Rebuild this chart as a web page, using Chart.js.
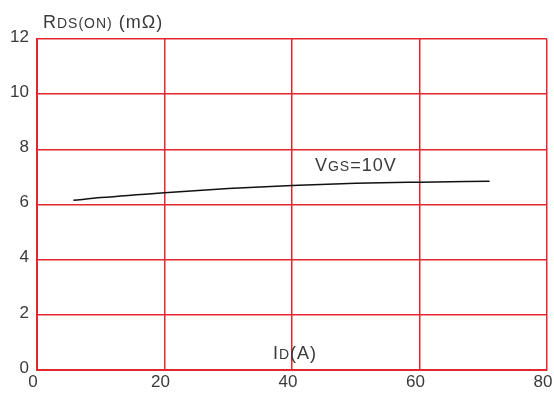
<!DOCTYPE html>
<html><head><meta charset="utf-8">
<script src="https://cdn.jsdelivr.net/npm/chart.js@4/dist/chart.umd.min.js"></script>
<style>html,body{margin:0;padding:0;background:#fff}#wrap{width:554px;height:394px}</style>
</head><body><div id="wrap"><canvas id="c" width="554" height="394"></canvas></div>
<script>
const currentA = [5.7, 10, 20, 30, 40, 50, 60, 71];
const rdsOn = [6.15, 6.25, 6.43, 6.58, 6.69, 6.77, 6.81, 6.84];
const xTicks = [0, 20, 40, 60, 80];
const yTicks = [0, 2, 4, 6, 8, 10, 12];
const seriesLabel = ["V", "GS", "=10V"];
const yTitle = ["R", "DS(ON)", " (m\u03A9)"];
const xTitle = ["I", "D", "(A)"];

const RED = 'rgb(228,38,46)';
const TXT = '#3a3a3a';
const FONT = 'Liberation Sans, Arial, sans-serif';

function drawMixed(ctx, parts, x, y, big, small) {
  let cx = x;
  ctx.letterSpacing = '1px';
  parts.forEach((p, i) => {
    ctx.font = (i % 2 === 1 ? small : big) + 'px ' + FONT;
    ctx.fillText(p, cx, y);
    cx += ctx.measureText(p).width;
  });
}

const textPlugin = {
  id: 'texts',
  afterDraw(chart) {
    const ctx = chart.ctx;
    const xs = chart.scales.x, ys = chart.scales.y;
    ctx.save();
    ctx.fillStyle = TXT;
    ctx.textBaseline = 'alphabetic';
    ctx.textAlign = 'left';
    drawMixed(ctx, yTitle, 43, 28, 18, 14);
    drawMixed(ctx, xTitle, xs.getPixelForValue(37.0), ys.getPixelForValue(0.4), 18, 14);
    drawMixed(ctx, seriesLabel, xs.getPixelForValue(43.6), ys.getPixelForValue(7.2), 18, 14);
    ctx.restore();
  }
};

new Chart(document.getElementById('c'), {
  type: 'line',
  data: {
    datasets: [{
      data: currentA.map((x, i) => ({x, y: rdsOn[i]})),
      borderColor: '#111',
      borderWidth: 1.5,
      pointRadius: 0,
      cubicInterpolationMode: 'monotone',
      fill: false
    }]
  },
  options: {
    responsive: false,
    animation: false,
    layout: {padding: {top: 39, right: 7, left: 0, bottom: 0}},
    plugins: {legend: {display: false}, tooltip: {enabled: false}},
    scales: {
      x: {
        type: 'linear', min: 0, max: 80,
        afterBuildTicks: s => { s.ticks = xTicks.map(v => ({value: v})); },
        afterFit: s => { s.height = 24; s.paddingRight = 0; s.paddingLeft = 0; },
        grid: {color: RED, lineWidth: 1.5, drawTicks: false},
        border: {color: RED, width: 2},
        ticks: {color: TXT, font: {family: FONT, size: 17}, padding: 2, maxRotation: 0, labelOffset: -4}
      },
      y: {
        type: 'linear', min: 0, max: 12,
        afterBuildTicks: s => { s.ticks = yTicks.map(v => ({value: v})); },
        afterFit: s => { s.width = 37; s.paddingTop = 0; s.paddingBottom = 0; },
        grid: {color: RED, lineWidth: 1.5, drawTicks: false},
        border: {color: RED, width: 2},
        ticks: {color: TXT, font: {family: FONT, size: 17}, padding: 8, labelOffset: -2}
      }
    }
  },
  plugins: [textPlugin]
});
</script></body></html>
